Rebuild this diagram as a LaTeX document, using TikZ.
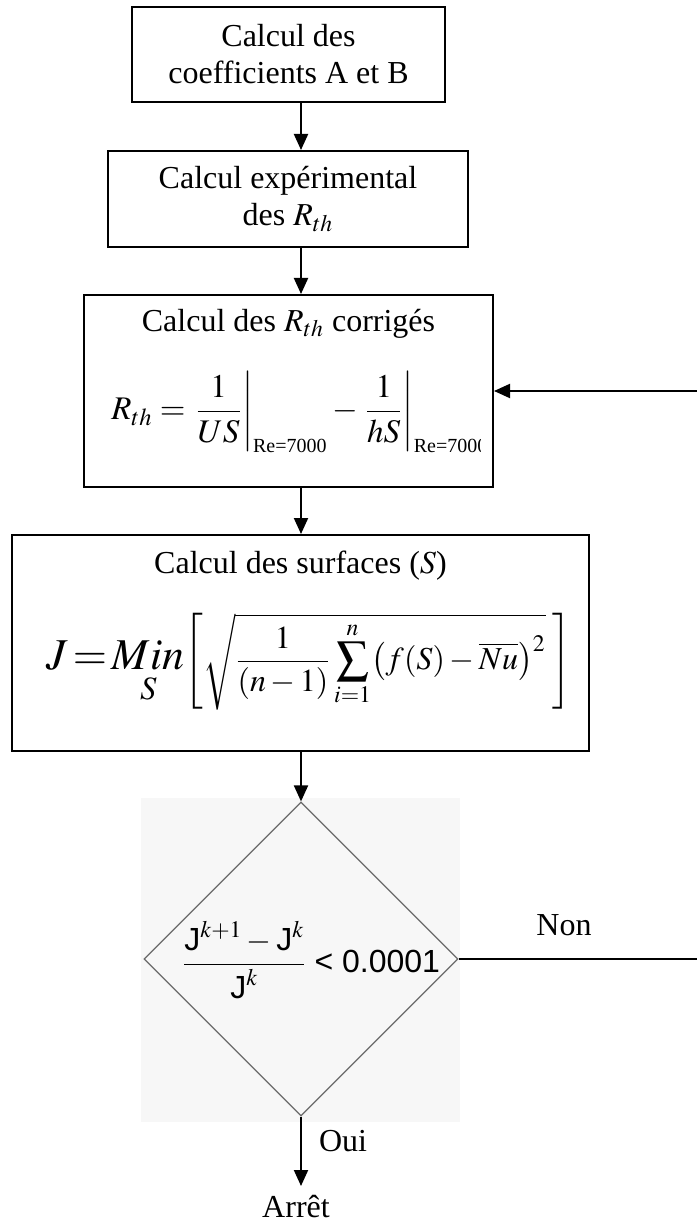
\documentclass[tikz,border=0pt]{standalone}
\usepackage{amsmath}
\usepackage{mathptmx}
\usepackage[no-math]{fontspec}
\setmainfont{Liberation Serif}
\newfontfamily\diagsans{Liberation Sans}
\usetikzlibrary{arrows.meta,positioning,shapes.geometric,calc}
\definecolor{scanbg}{HTML}{F7F7F7}
\definecolor{scanline}{HTML}{6A6A6A}
\newcommand{\reval}{\mbox{\fontsize{10pt}{11pt}\selectfont Re=7000}}
\tikzset{
  stepbox/.style={draw, line width=1pt, align=center, inner sep=0pt},
  decision/.style={diamond, draw=scanline, line width=0.6pt, aspect=1, inner sep=0pt},
  flow/.style={-{Triangle[width=7pt,length=8pt]}, line width=1pt},
  lbl/.style={inner sep=0pt, align=center, font=\fontsize{16pt}{18.5pt}\selectfont}
}

\begin{document}
\begin{tikzpicture}[x=0.5pt, y=-0.5pt]
\useasboundingbox (0,0) rectangle (696,1224);
\coordinate (spine) at (301,0);

% boxes
\node[stepbox, lbl, minimum width=156.5pt, minimum height=47.5pt] (coef) at (288.5,54.5) {Calcul des\\coefficients A et B};
\node[stepbox, lbl, minimum width=180pt, minimum height=48pt] (exper) at (288,199) {Calcul expérimental\\des $R_{th}$};
\node[stepbox, minimum width=204.5pt, minimum height=96pt] (corr) at (288.5,391) {};
\node[lbl] (corrT) at (288.5,324) {Calcul des $R_{th}$ corrigés};
\begin{scope}
\clip (100,360) rectangle (480,470);
\node[inner sep=0pt, anchor=west, font=\fontsize{16.5pt}{19pt}\selectfont] (corrF) at (111,412)
  {$R_{th} = \left.\dfrac{1}{US}\right|_{\reval} - \left.\dfrac{1}{hS}\right|_{\reval}$};
\end{scope}
\node[stepbox, minimum width=288.5pt, minimum height=108pt] (surf) at (300.5,643) {};
\node[lbl] (surfT) at (300.5,566) {Calcul des surfaces ($S$)};
\node[inner sep=0pt, anchor=west, font=\fontsize{16pt}{19pt}\selectfont] (surfF) at (46,662)
  {\fontsize{22pt}{25pt}\selectfont$J\!=\!\underset{S}{Min}$\fontsize{16pt}{19pt}\selectfont$\left[\sqrt{\dfrac{1}{(n-1)}\displaystyle\sum_{i=1}^{n}\bigl(f(S)-\overline{Nu}\bigr)^{2}}\;\right]$};

% test
\fill[scanbg] (141,798) rectangle (460,1122);
\node[decision, minimum width=157pt, minimum height=157pt] (dec) at (301,959) {};
\node[inner sep=0pt, font=\fontsize{16pt}{19pt}\selectfont] (crit) at (311,960)
  {$\dfrac{\mbox{\diagsans J}^{k+1}-\mbox{\diagsans J}^{k}}{\mbox{\diagsans J}^{k}}$ {\diagsans < 0.0001}};
\node[lbl] (non) at (564,925) {Non};
\node[lbl] (oui) at (343,1141) {Oui};
\node[lbl, anchor=north, inner sep=4.5pt] (arret) at (296,1186) {Arrêt};
\coordinate (loopR) at (700,959);

% arrows
\draw[flow] (coef.south -| spine) -- (exper.north -| spine);
\draw[flow] (exper.south -| spine) -- (corr.north -| spine);
\draw[flow] (corr.south -| spine) -- (surf.north -| spine);
\draw[flow] (surf.south -| spine) -- (dec.north);
\draw[flow] (dec.south) -- (dec.south |- arret.north);
\draw[flow] (dec.east) -- (loopR) |- (corr.east);
\end{tikzpicture}
\end{document}
